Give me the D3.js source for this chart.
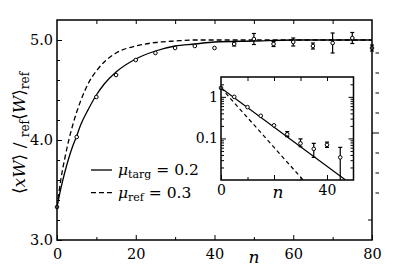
<!DOCTYPE html>
<html>
<head>
<meta charset="utf-8">
<script src="https://cdn.jsdelivr.net/npm/d3@7"></script>
<style>
  body { margin: 0; background: #fff; }
  svg text { font-family: "DejaVu Serif", "Liberation Serif", "Noto Serif", serif; fill: #000; }
</style>
</head>
<body>
<svg id="chart" width="415" height="274"></svg>
<script>
// ---- data ----
// main panel: simulated points
var pointN   = [0, 5, 10, 15, 20, 25, 30, 35, 40, 45, 50, 55, 60, 65, 70, 75, 80];
var pointY   = [3.33, 4.03, 4.43, 4.65, 4.80, 4.87, 4.92, 4.94, 4.92, 4.96, 5.01, 4.96, 4.98, 4.94, 4.97, 5.02, 4.92];
var pointErr = [0, 0, 0, 0, 0, 0, 0, 0, 0, 0.02, 0.055, 0.025, 0.04, 0.03, 0.1, 0.055, 0.03];

// main panel: curves
var curveN      = [0, 1, 2, 3, 4, 5, 6, 8, 10, 12, 15, 20, 25, 30, 35, 40, 50, 60, 80];
var solidCurve  = [3.33, 3.52, 3.68, 3.82, 3.94, 4.04, 4.15, 4.31, 4.45, 4.56, 4.68, 4.81, 4.89, 4.94, 4.96, 4.98, 4.99, 5.0, 5.0];
var dashedCurve = [3.33, 3.61, 3.82, 4.0, 4.15, 4.28, 4.39, 4.57, 4.69, 4.78, 4.87, 4.94, 4.975, 4.99, 5.0, 5.0, 5.0, 5.0, 5.0];

// odd ticks on the right edge
var rightOuterTicks = [4.87, 4.67, 4.47, 4.27, 4.07, 3.87, 3.67, 3.47];
var rightInnerTicks = [3.2];

// inset (log scale)
var insetN   = [0, 5, 10, 15, 20, 25, 30, 35, 40, 45];
var insetY   = [1.64, 1.0, 0.566, 0.35, 0.206, 0.126, 0.076, 0.056, 0.07, 0.035];
var insetLo  = [null, null, null, null, null, 0.11, 0.063, 0.035, 0.061, 0.004];
var insetHi  = [null, null, null, null, null, 0.145, 0.097, 0.076, 0.081, 0.061];
var insetSolidN  = [0, 47];
var insetSolidY  = [1.64, 0.01];
var insetDashedN = [0, 31];
var insetDashedY = [1.64, 0.01];

var legendLabels = [["targ", "0.2"], ["ref", "0.3"]];

// ---- layout ----
var svg = d3.select("#chart");

var x = d3.scaleLinear().domain([0, 80]).range([57, 372]);
var y = d3.scaleLinear().domain([3.0, 5.2]).range([240, 20]);

svg.append("clipPath").attr("id", "mainClip")
    .append("rect").attr("x", 57).attr("y", 20).attr("width", 315).attr("height", 220);

/* ****** main curves ****** */
var line = d3.line()
    .x(function(d) { return x(d[0]); })
    .y(function(d) { return y(d[1]); })
    .curve(d3.curveMonotoneX);

var gMain = svg.append("g").attr("clip-path", "url(#mainClip)");

gMain.append("path")
    .datum(curveN.map(function(n, i) { return [n, solidCurve[i]]; }))
    .attr("d", line)
    .attr("fill", "none").attr("stroke", "#000").attr("stroke-width", 1.3);

gMain.append("path")
    .datum(curveN.map(function(n, i) { return [n, dashedCurve[i]]; }))
    .attr("d", line)
    .attr("fill", "none").attr("stroke", "#000").attr("stroke-width", 1.3)
    .attr("stroke-dasharray", "5,3");

/* ****** main points with error bars ****** */
var pts = pointN.map(function(n, i) { return {n: n, y: pointY[i], e: pointErr[i]}; });

var eb = svg.append("g").selectAll("g").data(pts.filter(function(d) { return d.e > 0; }))
    .enter().append("g");
eb.append("line")
    .attr("x1", function(d) { return x(d.n); }).attr("x2", function(d) { return x(d.n); })
    .attr("y1", function(d) { return y(d.y - d.e); }).attr("y2", function(d) { return y(d.y + d.e); })
    .attr("stroke", "#000").attr("stroke-width", 1.2);
[-1, 1].forEach(function(s) {
    eb.append("line")
        .attr("x1", function(d) { return x(d.n) - 2; }).attr("x2", function(d) { return x(d.n) + 2; })
        .attr("y1", function(d) { return y(d.y + s * d.e); }).attr("y2", function(d) { return y(d.y + s * d.e); })
        .attr("stroke", "#000").attr("stroke-width", 1.2);
});

svg.append("g").selectAll("circle").data(pts).enter().append("circle")
    .attr("cx", function(d) { return x(d.n); })
    .attr("cy", function(d) { return y(d.y); })
    .attr("r", 1.8)
    .attr("fill", "#fff").attr("stroke", "#000").attr("stroke-width", 1);

/* ****** main axes ****** */
function styleAxis(g) {
    g.attr("font-family", null);
    g.select(".domain").remove();
    g.selectAll("line").attr("stroke", "#000").attr("stroke-width", 1);
    g.selectAll("text").attr("font-size", 14.5);
}

svg.append("g").attr("transform", "translate(0,240)")
    .call(d3.axisBottom(x).tickValues([0, 20, 40, 60, 80]).tickSize(-5).tickPadding(9).tickFormat(d3.format("d")))
    .call(styleAxis);
svg.append("g").attr("transform", "translate(0,240)")
    .call(d3.axisBottom(x).tickValues([10, 30, 50, 70]).tickSize(-3).tickFormat(""))
    .call(styleAxis);
svg.append("g").attr("transform", "translate(0,20)")
    .call(d3.axisTop(x).tickValues([10, 20, 30, 40, 50, 60, 70]).tickSize(-4).tickFormat(""))
    .call(styleAxis);

svg.append("g").attr("transform", "translate(57,0)")
    .call(d3.axisLeft(y).tickValues([3, 4, 5]).tickSize(-5).tickPadding(4).tickFormat(d3.format(".1f")))
    .call(styleAxis);
svg.append("g").attr("transform", "translate(57,0)")
    .call(d3.axisLeft(y).tickValues([3.2, 3.4, 3.6, 3.8, 4.2, 4.4, 4.6, 4.8]).tickSize(-3).tickFormat(""))
    .call(styleAxis);

// right edge ticks
svg.append("g").selectAll("line").data(rightOuterTicks).enter().append("line")
    .attr("x1", function(d, i) { return i === 4 ? 372 : 375.5; }).attr("x2", 379)
    .attr("y1", function(d) { return y(d); }).attr("y2", function(d) { return y(d); })
    .attr("stroke", "#000").attr("stroke-width", 1);
svg.append("g").selectAll("line").data(rightInnerTicks).enter().append("line")
    .attr("x1", 368).attr("x2", 372)
    .attr("y1", function(d) { return y(d); }).attr("y2", function(d) { return y(d); })
    .attr("stroke", "#000").attr("stroke-width", 1);

svg.append("rect").attr("x", 57).attr("y", 20).attr("width", 315).attr("height", 220)
    .attr("fill", "none").attr("stroke", "#000").attr("stroke-width", 1.5);

/* ****** main labels ****** */
svg.append("text").attr("x", 254).attr("y", 263).attr("text-anchor", "middle")
    .attr("font-size", 17).attr("font-style", "italic").text("n");

var yl = svg.append("text").attr("transform", "translate(25,133) rotate(-90)")
    .attr("text-anchor", "middle").attr("font-size", 17);
yl.append("tspan").text("\u27E8");
yl.append("tspan").attr("font-style", "italic").text("xW");
yl.append("tspan").text("\u27E9 / ");
yl.append("tspan").attr("font-size", 12).attr("dy", 4).text("ref");
yl.append("tspan").attr("dy", -4).text("\u27E8");
yl.append("tspan").attr("font-style", "italic").text("W");
yl.append("tspan").text("\u27E9");
yl.append("tspan").attr("font-size", 12).attr("dy", 4).text("ref");

/* ****** legend ****** */
var leg = svg.append("g").selectAll("g").data(legendLabels).enter().append("g")
    .attr("transform", function(d, i) { return "translate(0," + (170 + i * 22.7) + ")"; });
leg.append("line").attr("x1", 91).attr("x2", 112).attr("y1", 0).attr("y2", 0)
    .attr("stroke", "#000").attr("stroke-width", 1.3)
    .attr("stroke-dasharray", function(d, i) { return i ? "5,3" : null; });
var lt = leg.append("text").attr("x", 118).attr("y", 5).attr("font-size", 15.5);
lt.append("tspan").attr("font-style", "italic").text("\u03BC");
lt.append("tspan").attr("font-size", 11).attr("dy", 3).text(function(d) { return d[0]; });
lt.append("tspan").attr("dy", -3).text(function(d) { return " = " + d[1]; });

/* ****** inset ****** */
var ix = d3.scaleLinear().domain([0, 50]).range([221, 353.5]);
var iy = d3.scaleLog().domain([0.01, 3]).range([180, 77]);

svg.append("rect").attr("x", 221).attr("y", 77).attr("width", 132.5).attr("height", 103)
    .attr("fill", "#fff");

svg.append("clipPath").attr("id", "insetClip")
    .append("rect").attr("x", 221).attr("y", 77).attr("width", 132.5).attr("height", 103);

var gIn = svg.append("g").attr("clip-path", "url(#insetClip)");

var iline = d3.line()
    .x(function(d) { return ix(d[0]); })
    .y(function(d) { return iy(d[1]); });

gIn.append("path")
    .datum(insetSolidN.map(function(n, i) { return [n, insetSolidY[i]]; }))
    .attr("d", iline).attr("fill", "none").attr("stroke", "#000").attr("stroke-width", 1.2);
gIn.append("path")
    .datum(insetDashedN.map(function(n, i) { return [n, insetDashedY[i]]; }))
    .attr("d", iline).attr("fill", "none").attr("stroke", "#000").attr("stroke-width", 1.2)
    .attr("stroke-dasharray", "4,3");

var ipts = insetN.map(function(n, i) { return {n: n, y: insetY[i], lo: insetLo[i], hi: insetHi[i]}; });
var ieb = gIn.append("g").selectAll("g").data(ipts.filter(function(d) { return d.lo !== null; }))
    .enter().append("g");
ieb.append("line")
    .attr("x1", function(d) { return ix(d.n); }).attr("x2", function(d) { return ix(d.n); })
    .attr("y1", function(d) { return iy(d.lo); }).attr("y2", function(d) { return iy(d.hi); })
    .attr("stroke", "#000").attr("stroke-width", 1.2);
["lo", "hi"].forEach(function(k) {
    ieb.append("line")
        .attr("x1", function(d) { return ix(d.n) - 2; }).attr("x2", function(d) { return ix(d.n) + 2; })
        .attr("y1", function(d) { return iy(d[k]); }).attr("y2", function(d) { return iy(d[k]); })
        .attr("stroke", "#000").attr("stroke-width", 1.2);
});
svg.append("g").selectAll("circle").data(ipts).enter().append("circle")
    .attr("cx", function(d) { return ix(d.n); })
    .attr("cy", function(d) { return iy(d.y); })
    .attr("r", 1.8)
    .attr("fill", "#fff").attr("stroke", "#000").attr("stroke-width", 1);

// inset axes
function styleInset(g) {
    g.attr("font-family", null);
    g.select(".domain").remove();
    g.selectAll("line").attr("stroke", "#000").attr("stroke-width", 1);
    g.selectAll("text").attr("font-size", 14);
}
svg.append("g").attr("transform", "translate(0,180)")
    .call(d3.axisBottom(ix).tickValues([0, 20, 40]).tickSize(-5).tickPadding(5).tickFormat(function(d) { return d === 20 ? "" : d; }))
    .call(styleInset);
svg.append("g").attr("transform", "translate(0,180)")
    .call(d3.axisBottom(ix).tickValues([10, 30]).tickSize(-3).tickFormat(""))
    .call(styleInset);
svg.append("g").attr("transform", "translate(0,77)")
    .call(d3.axisTop(ix).tickValues([10, 20, 30, 40]).tickSize(-4).tickFormat(""))
    .call(styleInset);

var majorLog = [0.1, 1];
var minorLog = iy.ticks().filter(function(d) { return majorLog.indexOf(d) < 0 && d > 0.01 && d < 3; });
svg.append("g").attr("transform", "translate(221,0)")
    .call(d3.axisLeft(iy).tickValues(majorLog).tickSize(-5).tickPadding(3).tickFormat(function(d) { return d === 1 ? "1" : "0.1"; }))
    .call(styleInset);
svg.append("g").attr("transform", "translate(221,0)")
    .call(d3.axisLeft(iy).tickValues(minorLog).tickSize(-3).tickFormat(""))
    .call(styleInset);
svg.append("g").attr("transform", "translate(353.5,0)")
    .call(d3.axisRight(iy).tickValues(majorLog).tickSize(-5).tickFormat(""))
    .call(styleInset);
svg.append("g").attr("transform", "translate(353.5,0)")
    .call(d3.axisRight(iy).tickValues(minorLog).tickSize(-3).tickFormat(""))
    .call(styleInset);

svg.append("rect").attr("x", 221).attr("y", 77).attr("width", 132.5).attr("height", 103)
    .attr("fill", "none").attr("stroke", "#000").attr("stroke-width", 1.5);

svg.append("text").attr("x", 278).attr("y", 198).attr("text-anchor", "middle")
    .attr("font-size", 17).attr("font-style", "italic").text("n");
</script>
</body>
</html>
